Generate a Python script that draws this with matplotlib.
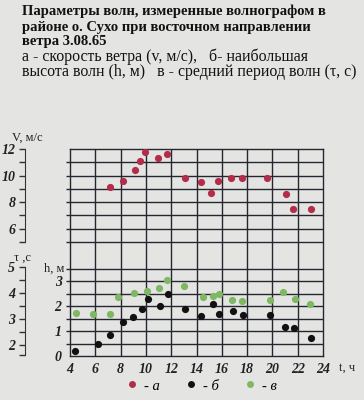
import matplotlib
matplotlib.use('Agg')
import matplotlib.pyplot as plt
from matplotlib.ticker import FixedLocator, NullFormatter
from matplotlib.lines import Line2D

# ---- data ----
t_v = [7.16, 8.16, 9.17, 9.56, 9.9, 10.93, 11.67, 13.1, 14.33, 15.15, 15.7, 16.7, 17.6, 19.6, 21.05, 21.65, 23.03]
v = [9.1, 9.6, 10.4, 11.1, 11.8, 11.35, 11.6, 9.8, 9.5, 8.7, 9.6, 9.8, 9.8, 9.8, 8.6, 7.45, 7.45]

t_h = [4.37, 6.19, 7.16, 8.16, 8.95, 9.67, 10.17, 11.09, 11.77, 13.09, 14.38, 15.3, 15.8, 16.86, 17.7, 19.8, 21.0, 21.73, 23.05]
h = [0.21, 0.47, 0.84, 1.36, 1.56, 1.88, 2.28, 2.01, 2.49, 1.88, 1.61, 2.08, 1.68, 1.79, 1.64, 1.64, 1.17, 1.13, 0.73]

t_tau = [4.45, 5.84, 7.16, 7.77, 9.08, 10.09, 11.01, 11.67, 13.04, 14.54, 15.28, 15.8, 16.83, 17.62, 19.79, 20.8, 21.76, 22.97]
tau = [3.22, 3.2, 3.2, 3.86, 4.01, 4.09, 4.19, 4.51, 4.28, 3.83, 3.9, 3.95, 3.72, 3.7, 3.72, 4.05, 3.76, 3.58]

x_ticks = [4, 6, 8, 10, 12, 14, 16, 18, 20, 22, 24]
v_major = [6, 8, 10, 12]
v_minor = [5, 7, 9, 11]
v_grid = [5, 6, 7, 8, 9, 10, 11]
h_major = [0, 1, 2, 3]
h_grid = [0.5, 1, 1.5, 2, 2.5, 3, 3.5]
tau_major = [2, 3, 4, 5]
tau_minor = [1.6, 2.5, 3.5, 4.5]

title = "Параметры волн, измеренные волнографом в\nрайоне о. Сухо при восточном направлении\nветра 3.08.65"
subtitle = "а - скорость ветра (v, м/с),   б- наибольшая\nвысота волн (h, м)   в - средний период волн (τ, с)"
legend_labels = ['- а', '- б', '- в']

RED = '#b32d4a'
BLACK = '#111111'
GREEN = '#7fb863'
GRID = '#262630'
BG = '#e4e5e3'
SERIF = 'Liberation Serif'

W, H = 364, 400
fig = plt.figure(figsize=(W / 100, H / 100), dpi=100, facecolor=BG)

def fx(px):
    return px / W

def fy(py):
    return 1 - py / H

left, right, top, bottom = 70, 323, 149, 356
ax = fig.add_axes([fx(left), fy(bottom), fx(right - left), (bottom - top) / H])
ax.set_facecolor('none')
ax.set_xlim(4, 24)
ax.set_ylim(0, (bottom - top) / 25.0)

axV = ax.twinx()
axV.set_ylim(12 - (bottom - top) / 13.25, 12)
axT = ax.twinx()
axT.set_ylim(5 - (bottom - 267) / 26.0, 5 + (267 - top) / 26.0)

lw = 1.0
for s in ax.spines.values():
    s.set_color(GRID)
    s.set_linewidth(lw)
for a in (axV, axT):
    for s in a.spines.values():
        s.set_visible(False)
    a.set_facecolor('none')

# grid
ext = 4 - 4 / 12.65
for xv in x_ticks[1:-1]:
    ax.axvline(xv, color=GRID, lw=lw, zorder=1)
ax.hlines(h_grid, ext, 24, color=GRID, lw=lw, clip_on=False, zorder=1)
axV.hlines(v_grid, ext, 24, color=GRID, lw=lw, clip_on=False, zorder=1)

# data
ms = 5.2
axV.plot(t_v, v, 'o', color=RED, ms=ms, mec='none', zorder=3)
ax.plot(t_h, h, 'o', color=BLACK, ms=ms, mec='none', zorder=3)
axT.plot(t_tau, tau, 'o', color=GREEN, ms=ms, mec='none', zorder=3)

numfont = dict(family=SERIF, style='italic', weight='bold', size=10)

# x axis
ax.set_xticks(x_ticks)
ax.set_xticklabels([str(x) for x in x_ticks], fontdict=numfont)
ax.tick_params(axis='x', length=0, pad=5, colors='#222222')
ax.text(1.095, -0.055, 't, ч', transform=ax.transAxes, ha='center', va='center',
        family=SERIF, size=9, color='#222222')

# h axis
ax.set_yticks(h_major)
ax.set_yticklabels([str(x) for x in h_major], fontdict=numfont)
ax.tick_params(axis='y', length=0, pad=6, colors='#222222')
ax.text(ext - 0.15, 3.5, 'h, м', ha='right', va='center', family=SERIF, size=9, color='#222222')

# V axis
sp = axV.spines['left']
sp.set_visible(True)
sp.set_position(('axes', -45 / 253))
sp.set_bounds(5, 12)
sp.set_color('#333333')
axV.yaxis.set_ticks_position('left')
axV.yaxis.set_label_position('left')
axV.set_yticks(v_major)
axV.set_yticklabels([str(x) for x in v_major], fontdict=numfont)
axV.yaxis.set_minor_locator(FixedLocator(v_minor))
axV.yaxis.set_minor_formatter(NullFormatter())
axV.tick_params(axis='y', which='both', direction='out', length=4, width=1, pad=3, colors='#333333')
axV.tick_params(axis='y', which='major', labelcolor='#222222')
axV.tick_params(axis='x', length=0, labelbottom=False, labeltop=False)
axV.text(-45 / 253 - 0.05, 1.055, 'V, м/с', transform=axV.transAxes, ha='left', va='center',
         family=SERIF, size=9, color='#222222')

# tau axis
sp = axT.spines['left']
sp.set_visible(True)
sp.set_position(('axes', -45 / 253))
sp.set_bounds(1.6, 5)
sp.set_color('#333333')
axT.yaxis.set_ticks_position('left')
axT.set_yticks(tau_major)
axT.set_yticklabels([str(x) for x in tau_major], fontdict=numfont)
axT.yaxis.set_minor_locator(FixedLocator(tau_minor))
axT.yaxis.set_minor_formatter(NullFormatter())
axT.tick_params(axis='y', which='both', direction='out', length=4, width=1, pad=3, colors='#333333')
axT.tick_params(axis='y', which='major', labelcolor='#222222')
axT.text(-45 / 253 - 0.045, 5.35, 'τ ,с', transform=axT.get_yaxis_transform(), ha='left', va='center',
         family=SERIF, size=9, color='#222222')

# legend
handles = [Line2D([], [], ls='none', marker='o', color=c, ms=5, mec='none') for c in (RED, BLACK, GREEN)]
fig.legend(handles, legend_labels, loc='center left', bbox_to_anchor=(fx(112), fy(386)),
           ncol=3, frameon=False, handlelength=1.0, handletextpad=0.3, columnspacing=1.65,
           prop=dict(family=SERIF, style='italic', size=10.5))

# titles
fig.text(fx(22), fy(5), title, ha='left', va='top', family=SERIF, weight='bold', size=10.5,
         linespacing=1.2, color='#111111')
fig.text(fx(22), fy(48.5), subtitle, ha='left', va='top', family=SERIF, size=11.4,
         linespacing=0.93, color='#111111')

fig.savefig('out.png', dpi=100, facecolor=BG)
